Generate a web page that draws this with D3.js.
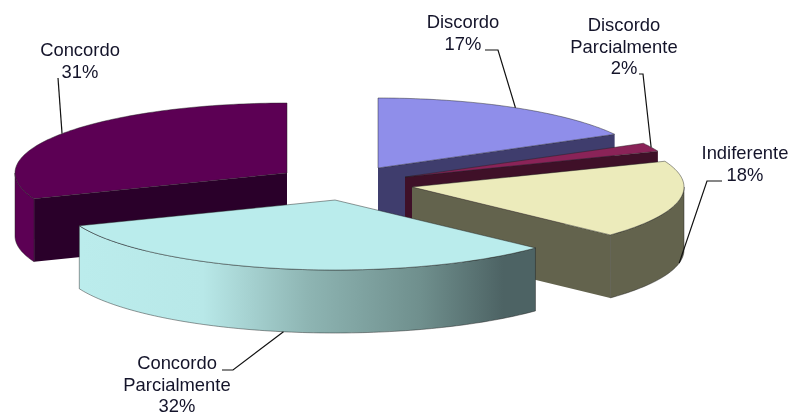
<!DOCTYPE html>
<html><head><meta charset="utf-8">
<script src="https://cdn.jsdelivr.net/npm/d3@7"></script>
<style>html,body{margin:0;padding:0;background:#fff}svg{display:block;filter:blur(.4px)}</style>
</head><body><svg id="c" width="792" height="417"></svg>
<script>
// data
const categories = ["Discordo","Discordo Parcialmente","Indiferente","Concordo Parcialmente","Concordo"];
const values = [17,2,18,32,31];
// styles
const topColors = ["#8f8eea","#8a2358","#ecebbb","#baecec","#5c0054"];
const cutColors = ["#3f3d6d","#3f1028","#63634d","#4d6464","#2a002a"];
const wallColors = ["#3f3d6d","#3f1028","#63634d","url(#wall)","#5c0054"];
// layout
const radiiX = [270,272,272,275,272], ry = 70, depth = 63;
const apex = [[378,168],[405,177],[412,187],[335,200],[287,173]];
const labelLines = [["Discordo","17%"],["Discordo","Parcialmente","2%"],["Indiferente","18%"],["Concordo","Parcialmente","32%"],["Concordo","31%"]];
const labelPos = [[463,28],[624,31],[745,159],[177,369],[80,56]];
const leaderPts = [[[485,50],[498,50]],[[639,74],[643,74]],[[722,181],[707,181]],[[222,370],[233,370]],[[58,78]]];
const lineH = 21.5;

const svg = d3.select("#c");
const grad = svg.append("defs").append("linearGradient").attr("id","wall")
  .attr("gradientUnits","userSpaceOnUse").attr("x1",80).attr("x2",535).attr("y1",0).attr("y2",0);
[[0,"#bbecec"],[.27,"#b8e8e8"],[.5,"#8eb5b3"],[.75,"#6f8f8d"],[.93,"#4d6364"],[1,"#4d6364"]]
  .forEach(([o,c])=>grad.append("stop").attr("offset",o).attr("stop-color",c));

const arcs = d3.pie().sort(null).startAngle(0).endAngle(2*Math.PI)(values);
const sy = d3.scaleLinear().domain([0,1]).range([0,ry]);
const sxs = radiiX.map(r=>d3.scaleLinear().domain([0,1]).range([0,r]));
const project = (i,a,r=1,dz=0)=>[apex[i][0]+sxs[i](r*Math.sin(a)), apex[i][1]-sy(r*Math.cos(a))+dz];
const line = d3.line();
const arcPts = (i,a0,a1,dz=0)=>{
  const n = Math.max(2,Math.ceil(Math.abs(a1-a0)/0.02));
  return d3.range(n+1).map(k=>project(i,a0+(a1-a0)*k/n,1,dz));
};
const edge = "#222";
const PI = Math.PI;
const order = [4,0,1,2,3];
const g = svg.append("g");
order.forEach(i=>{
  const d = arcs[i], a0=d.startAngle, a1=d.endAngle;
  const s = g.append("g").attr("class","slice").datum(categories[i]);
  const w0=Math.max(a0,PI/2), w1=Math.min(a1,3*PI/2);
  if(w1>w0){
    s.append("path").attr("d",line([...arcPts(i,w0,w1),...arcPts(i,w1,w0,depth)])+"Z")
     .attr("fill",wallColors[i]).attr("stroke",edge).attr("stroke-opacity",.65).attr("stroke-width",.7);
  }
  const face=a=>[project(i,a,0),project(i,a,1),project(i,a,1,depth),project(i,a,0,depth)];
  if(a0>PI) s.append("path").attr("d",line(face(a0))+"Z").attr("fill",cutColors[i]);
  if(a1<PI) s.append("path").attr("d",line(face(a1))+"Z").attr("fill",cutColors[i]);
  s.append("path").attr("d",line([project(i,a0,0),...arcPts(i,a0,a1)])+"Z")
   .attr("fill",topColors[i]).attr("stroke",edge).attr("stroke-opacity",.65).attr("stroke-width",.7);
});
arcs.forEach((d,i)=>{
  const mid=(d.startAngle+d.endAngle)/2;
  const front = mid>PI/2 && mid<3*PI/2;
  const anchor = project(i,mid,1,front?depth:0);
  svg.append("path").attr("d",line([...leaderPts[i],anchor])).attr("fill","none")
     .attr("stroke","#111").attr("stroke-width",1.2);
  const t = svg.append("text").attr("text-anchor","middle")
     .attr("font-family","'Liberation Sans',Arial,sans-serif").attr("font-size",18.4).attr("fill","#14142a");
  labelLines[i].forEach((l,k)=>t.append("tspan").attr("x",labelPos[i][0]).attr("y",labelPos[i][1]+k*lineH).text(l));
});
</script></body></html>
